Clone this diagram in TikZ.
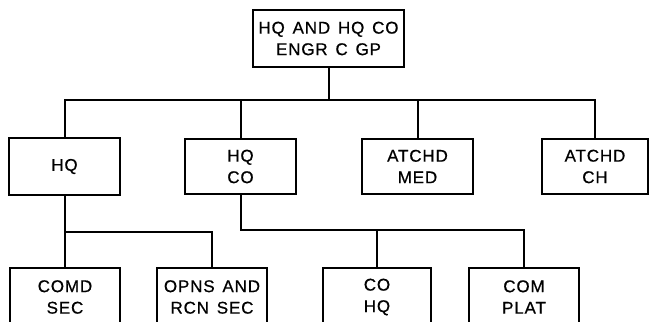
\documentclass[tikz,border=0pt]{standalone}
\usepackage{fontspec}
\setmainfont[LetterSpace=5,WordSpace=1.4,FakeBold=0.6]{Liberation Sans}
\begin{document}
\begin{tikzpicture}[x=1pt,y=-1pt,
  unit/.style={draw, line width=1.2pt, rectangle, inner sep=0pt, align=center,
    font=\fontsize{17}{21.5}\selectfont},
  link/.style={line width=2pt}]
\useasboundingbox (0,0) rectangle (650,321);
\clip (0,0) rectangle (650,321);
\node[unit, minimum width=111pt, minimum height=57pt] (hq) at (64.5,166.5) {HQ};
\node[unit, minimum width=151pt, minimum height=57pt] (top) at (328.5,38.5) {HQ AND HQ CO\\ENGR C GP};
\node[unit, minimum width=111pt, minimum height=55pt] (hqco) at (240.5,166.5) {HQ\\CO};
\node[unit, minimum width=111pt, minimum height=55pt] (med) at (417.5,166.5) {ATCHD\\MED};
\node[unit, minimum width=106pt, minimum height=55pt] (ch) at (595,166.5) {ATCHD\\CH};
\node[unit, minimum width=110pt, minimum height=58pt] (comd) at (65,297) {COMD\\SEC};
\node[unit, minimum width=110pt, minimum height=58pt] (opns) at (212,297) {OPNS AND\\RCN SEC};
\node[unit, minimum width=108pt, minimum height=58pt] (cohq) at (377,297) {CO\\HQ};
\node[unit, minimum width=110pt, minimum height=58pt] (plat) at (524,297) {COM\\PLAT};
\coordinate (bus) at (0,100);
\coordinate (busa) at (0,232);
\coordinate (busb) at (0,230);
\draw[link] (top.south) -- (top.south |- bus);
\draw[link] (hq.north) -- (hq.north |- bus) -- (ch.north |- bus) -- (ch.north);
\draw[link] (hqco.north) -- (hqco.north |- bus);
\draw[link] (med.north) -- (med.north |- bus);
\draw[link] (hq.south) -- (hq.south |- comd.north);
\draw[link] (hq.south |- busa) -- (opns.north |- busa) -- (opns.north);
\draw[link] (hqco.south) -- (hqco.south |- busb) -- (plat.north |- busb) -- (plat.north);
\draw[link] (cohq.north) -- (cohq.north |- busb);
\end{tikzpicture}
\end{document}
